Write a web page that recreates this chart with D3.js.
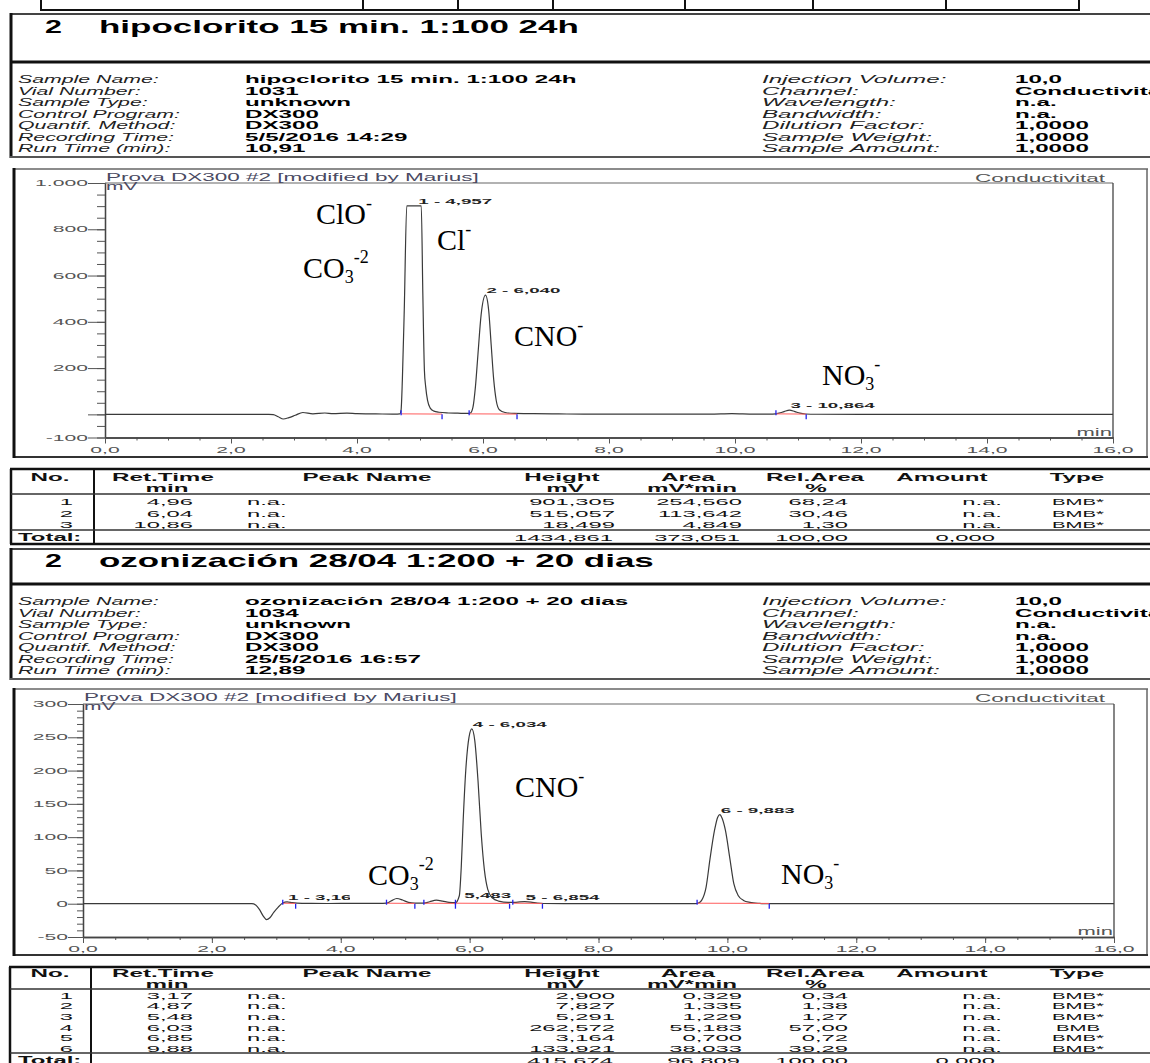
<!DOCTYPE html>
<html>
<head>
<meta charset="utf-8">
<script src="https://cdn.jsdelivr.net/npm/d3@7"></script>
<style>
  html, body { margin: 0; padding: 0; background: #fff; overflow: hidden; }
  svg { display: block; }
</style>
</head>
<body>
<svg id="page" width="1150" height="1063"></svg>
<script>
// ---------------- report data ----------------
const infoLabelsLeft  = ["Sample Name:", "Vial Number:", "Sample Type:", "Control Program:", "Quantif. Method:", "Recording Time:", "Run Time (min):"];
const infoLabelsRight = ["Injection Volume:", "Channel:", "Wavelength:", "Bandwidth:", "Dilution Factor:", "Sample Weight:", "Sample Amount:"];
const infoValuesRight = ["10,0", "Conductivitat", "n.a.", "n.a.", "1,0000", "1,0000", "1,0000"];

const run1Title = "hipoclorito 15 min. 1:100 24h";
const run1Info  = ["hipoclorito 15 min. 1:100 24h", "1031", "unknown", "DX300", "DX300", "5/5/2016 14:29", "10,91"];
const run2Title = "ozonización 28/04 1:200 + 20 dias";
const run2Info  = ["ozonización 28/04 1:200 + 20 dias", "1034", "unknown", "DX300", "DX300", "25/5/2016 16:57", "12,89"];

const chartTitle = "Prova DX300 #2 [modified by Marius]";
const channelName = "Conductivitat";

// time axis (min)
const timeLabels = [0, 2, 4, 6, 8, 10, 12, 14, 16];

// signal axes (mV)
const run1YMajor  = [1000, 800, 600, 400, 200, 0, -100];
const run1YLabels = [1000, 800, 600, 400, 200, -100];
const run2YMajor  = [300, 250, 200, 150, 100, 50, 0, -50];
const run2YLabels = [300, 250, 200, 150, 100, 50, 0, -50];

// integrated peaks, run 1
const run1PeakNo      = [1, 2, 3];
const run1PeakRt      = [4.957, 6.040, 10.864];
const run1PeakHeight  = [901.305, 515.057, 18.499];
const run1PeakArea    = [254.560, 113.642, 4.849];
const run1PeakRelArea = [68.24, 30.46, 1.30];
const run1PeakType    = ["BMB*", "BMB*", "BMB*"];
const run1PeakStart   = [4.70, 5.78, 10.65];
const run1PeakEnd     = [5.35, 6.54, 11.13];
const run1Totals      = [1434.861, 373.051, 100.00, 0.000];

// integrated peaks, run 2
const run2PeakNo      = [1, 2, 3, 4, 5, 6];
const run2PeakRt      = [3.167, 4.870, 5.483, 6.034, 6.854, 9.883];
const run2PeakHeight  = [2.900, 7.827, 5.291, 262.572, 3.164, 133.921];
const run2PeakArea    = [0.329, 1.335, 1.229, 55.183, 0.700, 38.033];
const run2PeakRelArea = [0.34, 1.38, 1.27, 57.00, 0.72, 39.29];
const run2PeakType    = ["BMB*", "BMB*", "BMB*", "BMB", "BMB*", "BMB*"];
const run2PeakStart   = [3.10, 4.71, 5.29, 5.78, 6.67, 9.53];
const run2PeakEnd     = [3.30, 5.15, 5.78, 6.62, 7.13, 10.65];
const run2LabelShown  = [true, false, true, true, true, true];  // peak 2 label sits under the CO3 note
const run2Totals      = [415.674, 96.809, 100.00, 0.000];

// detector trace, run 1: [time min, signal mV]
const run1Trace = [
  [0, 0], [2.60, 0], [2.67, -1], [2.75, -10], [2.83, -20], [2.92, -14], [3.02, -4], [3.14, 8],
  [3.30, 2], [3.49, 6], [3.62, 3], [3.84, 5], [4.0, 3], [4.3, 2], [4.6, 1], [4.68, 2],
  [4.70, 20], [4.72, 149], [4.75, 450], [4.79, 901.305], [4.957, 901.305], [5.02, 901.305],
  [5.045, 520], [5.07, 190], [5.09, 120], [5.12, 60], [5.16, 28], [5.22, 14], [5.30, 9],
  [5.45, 6], [5.60, 5], [5.76, 4], [5.80, 6], [5.84, 30], [5.88, 120], [5.92, 260],
  [5.97, 430], [6.040, 515.057], [6.09, 450], [6.13, 300], [6.17, 150], [6.21, 60],
  [6.26, 20], [6.35, 8], [6.50, 4], [6.80, 3], [7.2, 2], [7.6, 1], [9.6, 1], [9.95, 3],
  [10.3, 1], [10.6, 1], [10.70, 5], [10.78, 12], [10.864, 18.499], [10.95, 12], [11.03, 5],
  [11.12, 1.5], [11.30, 0.5], [12.0, 0], [16.0, 0]
];

// detector trace, run 2: [time min, signal mV]
const run2Trace = [
  [0, 0], [2.62, 0], [2.68, -2], [2.74, -9], [2.80, -19], [2.85, -24], [2.90, -21], [2.96, -13],
  [3.03, -5], [3.10, 1], [3.167, 2.9], [3.25, 1.5], [3.40, 0.5], [3.8, 0.3], [4.2, 0.5],
  [4.6, 0.5], [4.71, 0.8], [4.78, 4], [4.870, 7.827], [4.96, 5.5], [5.05, 2], [5.15, 0.8],
  [5.29, 0.8], [5.38, 3], [5.483, 5.291], [5.58, 4], [5.68, 2], [5.78, 1.5], [5.84, 12],
  [5.87, 55], [5.90, 125], [5.94, 200], [5.99, 250], [6.034, 262.572], [6.08, 245],
  [6.13, 185], [6.18, 105], [6.23, 50], [6.28, 22], [6.35, 9], [6.45, 4], [6.60, 2],
  [6.70, 2], [6.78, 2.8], [6.854, 3.164], [6.95, 2.5], [7.05, 1], [7.15, 0.3], [8.0, 0],
  [9.50, 0], [9.55, 1], [9.60, 5], [9.67, 25], [9.73, 67], [9.80, 110], [9.85, 130],
  [9.883, 133.921], [9.92, 128], [9.97, 110], [10.04, 67], [10.10, 30], [10.17, 12],
  [10.25, 5], [10.35, 2], [10.50, 0.5], [10.65, 0], [16.0, 0]
];

// ---------------- drawing helpers ----------------
const svg = d3.select("#page");
const SANS = "'Liberation Sans', Arial, Helvetica, sans-serif";
const SERIF = "'Liberation Serif', 'Times New Roman', serif";
const loc = d3.formatLocale({ decimal: ",", thousands: ".", grouping: [3], currency: ["", ""], minus: "-" });
const fmtY = loc.format(",");
const fmtX = loc.format(".1f");
const dec = (v, n) => v.toFixed(n).replace(".", ",");

// report text is rendered horizontally stretched, like the printed report
function txt(parent, x, y, str, o) {
  const t = parent.append("text")
    .attr("x", x).attr("y", y)
    .attr("font-family", o.family || SANS)
    .attr("font-size", o.size)
    .attr("font-weight", o.weight || "normal")
    .attr("font-style", o.style || "normal")
    .attr("fill", o.fill || "#000")
    .text(str);
  const w = t.node().getComputedTextLength();
  const W = w * (o.k || 1);
  if (o.k && o.k !== 1) t.attr("textLength", W).attr("lengthAdjust", "spacingAndGlyphs");
  const a = o.anchor || "start";
  t.attr("x", a === "end" ? x - W : a === "middle" ? x - W / 2 : x);
  return t;
}
function hline(x1, x2, y, w, c) {
  svg.append("line").attr("x1", x1).attr("x2", x2).attr("y1", y).attr("y2", y)
    .attr("stroke", c || "#111").attr("stroke-width", w || 1);
}
function vline(x, y1, y2, w, c) {
  svg.append("line").attr("x1", x).attr("x2", x).attr("y1", y1).attr("y2", y2)
    .attr("stroke", c || "#111").attr("stroke-width", w || 1);
}
// chemical species label with optional sub/superscripts
function chem(parent, x, y, parts) {
  const t = parent.append("text").attr("x", x).attr("y", y)
    .attr("font-family", SERIF).attr("font-size", 30).attr("fill", "#000");
  parts.forEach(p => {
    const s = t.append("tspan").text(p[0]);
    if (p[1] === "sub") s.attr("y", y + 5).attr("font-size", 18);
    else if (p[1] === "sup") s.attr("y", y - 15).attr("font-size", 18);
    else s.attr("y", y);
  });
}

// ---------------- fragment of previous table ----------------
hline(40, 1080, 10, 2);
[41, 363, 458, 553, 685, 813, 946, 1079].forEach(x => vline(x, 0, 11, 2));

// ---------------- header + info block ----------------
function drawHeader(top, bandBottom, titleBase, infoBottom, title, info) {
  hline(10, 1150, top, 2, "#444");
  hline(10, 1150, bandBottom, 3, "#111");
  vline(11, top - 1, infoBottom + 1, 3, "#111");
  hline(10, 1150, infoBottom, 2, "#555");
  txt(svg, 45, titleBase, "2", { size: 19, weight: "bold", k: 1.6 });
  txt(svg, 99, titleBase, title, { size: 19, weight: "bold", k: 1.84 });
  const r0 = bandBottom + 21;
  infoLabelsLeft.forEach((s, i) => {
    txt(svg, 18, r0 + i * 11.5, s, { size: 11.5, style: "italic", k: 1.85, fill: "#222" });
    txt(svg, 245, r0 + i * 11.5, info[i], { size: 11.5, weight: "bold", k: 2.1 });
  });
  infoLabelsRight.forEach((s, i) => {
    txt(svg, 762, r0 + i * 11.5, s, { size: 11.5, style: "italic", k: 2.1, fill: "#222" });
    txt(svg, 1015, r0 + i * 11.5, infoValuesRight[i], { size: 11.5, weight: "bold", k: 2.1 });
  });
}

// ---------------- chromatogram ----------------
function drawChart(c) {
  const g = svg.append("g");
  // outer frame
  hline(13, 1148, c.frameTop, 1.5, "#666");
  vline(1147, c.frameTop, c.frameBottom, 1.5, "#666");
  hline(13, 1148, c.frameBottom, 2, "#333");
  vline(14, c.frameTop - 1, c.frameBottom + 1, 3, "#111");

  const x = d3.scaleLinear().domain([0, 16]).range([c.x0, c.x1]);
  const y = d3.scaleLinear().domain(c.yDomain).range([c.yBottom, c.yTop]);

  // plot box top and right edges
  g.append("line").attr("x1", c.x0).attr("x2", c.x1).attr("y1", y(c.yDomain[1])).attr("y2", y(c.yDomain[1]))
    .attr("stroke", "#666").attr("stroke-width", 1.2);
  g.append("line").attr("x1", c.x1).attr("x2", c.x1).attr("y1", y(c.yDomain[1])).attr("y2", y(c.yDomain[0]))
    .attr("stroke", "#444").attr("stroke-width", 1.3);

  // y axis
  const yMinor = d3.range(c.yDomain[0], c.yDomain[1] + 0.001, c.yMinorStep);
  g.append("g").attr("transform", `translate(${c.x0},0)`)
    .call(d3.axisLeft(y).tickValues(yMinor).tickSize(c.minorLen).tickSizeOuter(0).tickFormat(""));
  g.append("g").attr("transform", `translate(${c.x0},0)`)
    .call(d3.axisLeft(y).tickValues(c.yMajor).tickSize(c.majorLen).tickSizeOuter(0).tickFormat(""));
  c.yLabels.forEach(v => txt(g, c.x0 - c.majorLen, y(v) + 3.2, fmtY(v), { size: 9, k: 2.35, fill: "#555", anchor: "end" }));

  // x axis
  const xMinor = d3.range(0, 16.001, 0.5);
  g.append("g").attr("transform", `translate(0,${c.yBottom})`)
    .call(d3.axisBottom(x).tickValues(xMinor).tickSize(3).tickSizeOuter(0).tickFormat(""));
  g.append("g").attr("transform", `translate(0,${c.yBottom})`)
    .call(d3.axisBottom(x).tickValues(timeLabels).tickSize(6).tickSizeOuter(0).tickFormat(""));
  timeLabels.forEach(v => txt(g, x(v), c.yBottom + 15, fmtX(v), { size: 9, k: 2.35, fill: "#555", anchor: "middle" }));
  txt(g, c.x1 - 1, c.yBottom - 2, "min", { size: 10, k: 2.2, fill: "#555", anchor: "end" });

  g.selectAll(".domain").attr("stroke", "#444").attr("stroke-width", 1.3);
  g.selectAll(".tick line").attr("stroke", "#555").attr("stroke-width", 1);

  // captions
  txt(g, c.x0 + 1, c.titleBase, chartTitle, { size: 10, k: 2.25, fill: "#4a4a62" });
  txt(g, c.x0 + 1, c.titleBase + 9, "mV", { size: 10, k: 2.1, fill: "#4a4a62" });
  txt(g, 1105, c.titleBase + 1, channelName, { size: 10, k: 2.25, fill: "#555", anchor: "end" });

  // peak labels
  c.peakNo.forEach((n, i) => {
    if (c.labelShown && !c.labelShown[i]) return;
    txt(g, x(c.peakRt[i]) + 1, y(c.peakHeight[i]) - 2, `${n} - ${dec(c.peakRt[i], 3)}`,
      { size: 8, weight: "bold", k: 2.34, fill: "#222" });
  });

  if (c.cover) {
    g.append("rect").attr("x", c.cover[0]).attr("y", c.cover[1])
      .attr("width", c.cover[2]).attr("height", c.cover[3]).attr("fill", "#fff");
  }

  // detector trace
  const line = d3.line().x(d => x(d[0])).y(d => y(d[1])).curve(d3.curveMonotoneX);
  g.append("path").datum(c.trace).attr("d", line)
    .attr("fill", "none").attr("stroke", "#3a3a3a").attr("stroke-width", 1.2)
    .attr("stroke-linejoin", "round");

  // integration baselines and delimiters
  c.peakStart.forEach((s, i) => {
    g.append("line").attr("x1", x(s)).attr("x2", x(c.peakEnd[i]))
      .attr("y1", y(0) - 0.5).attr("y2", y(0) - 0.3)
      .attr("stroke", "#ff5c5c").attr("stroke-width", 1);
  });
  c.peakStart.forEach(s => {
    g.append("line").attr("x1", x(s)).attr("x2", x(s)).attr("y1", y(0) - 4).attr("y2", y(0) + 1)
      .attr("stroke", "#2222ee").attr("stroke-width", 1.3);
  });
  c.peakEnd.forEach(s => {
    g.append("line").attr("x1", x(s)).attr("x2", x(s)).attr("y1", y(0)).attr("y2", y(0) + 5)
      .attr("stroke", "#2222ee").attr("stroke-width", 1.3);
  });

  c.chem.forEach(ch => chem(g, ch[0], ch[1], ch[2]));
}

// ---------------- peak table ----------------
const colNo = 73, colRt = 193, colName = 247, colH = 615, colA = 742, colRel = 848, colAmt = 1002, colType = 1078;

function drawTable(t) {
  const tg = svg.append("g");
  hline(t.left - 1, 1150, t.top, 2.5, "#111");
  vline(t.left, t.top, t.bottom, 2.5, "#111");
  vline(t.div, t.top, t.bottom, 2, "#111");
  hline(t.left, 1150, t.headLine, 1.3, "#333");
  hline(t.left, 1150, t.totalLine, 1.5, "#333");
  hline(t.left - 1, 1150, t.bottom, 2.5, "#111");

  const H = { size: 10, weight: "bold", k: 2.42, fill: "#111", anchor: "middle" };
  txt(tg, 50, t.h1, "No.", H);
  txt(tg, 163, t.h1, "Ret.Time", H);  txt(tg, 167, t.h2, "min", H);
  txt(tg, 367, t.h1, "Peak Name", H);
  txt(tg, 562, t.h1, "Height", H);    txt(tg, 565, t.h2, "mV", H);
  txt(tg, 688, t.h1, "Area", H);      txt(tg, 692, t.h2, "mV*min", H);
  txt(tg, 815, t.h1, "Rel.Area", H);  txt(tg, 816, t.h2, "%", H);
  txt(tg, 942, t.h1, "Amount", H);
  txt(tg, 1077, t.h1, "Type", H);

  const R = { size: 9.5, k: 2.5, fill: "#111" };
  t.no.forEach((n, i) => {
    const yb = t.r0 + i * t.step;
    txt(tg, colNo, yb, String(n), { ...R, anchor: "end" });
    txt(tg, colRt, yb, dec(t.rt[i], 2), { ...R, anchor: "end" });
    txt(tg, colName, yb, "n.a.", R);
    txt(tg, colH, yb, dec(t.height[i], 3), { ...R, anchor: "end" });
    txt(tg, colA, yb, dec(t.area[i], 3), { ...R, anchor: "end" });
    txt(tg, colRel, yb, dec(t.rel[i], 2), { ...R, anchor: "end" });
    txt(tg, colAmt, yb, "n.a.", { ...R, anchor: "end" });
    txt(tg, colType, yb, t.type[i], { ...R, k: 2.14, anchor: "middle" });
  });
  txt(tg, 18, t.totalBase, "Total:", { size: 10, weight: "bold", k: 2.39, fill: "#111" });
  txt(tg, colH - 2, t.totalBase, dec(t.totals[0], 3), { ...R, anchor: "end" });
  txt(tg, colA - 2, t.totalBase, dec(t.totals[1], 3), { ...R, anchor: "end" });
  txt(tg, colRel, t.totalBase, dec(t.totals[2], 2), { ...R, anchor: "end" });
  txt(tg, 995, t.totalBase, dec(t.totals[3], 3), { ...R, anchor: "end" });
}

// ---------------- run 1 ----------------
drawHeader(14, 62, 33, 157, run1Title, run1Info);
drawChart({
  frameTop: 169, frameBottom: 457,
  x0: 105, x1: 1113, yTop: 183, yBottom: 437.5,
  yDomain: [-100, 1000], yMinorStep: 50, yMajor: run1YMajor, yLabels: run1YLabels,
  majorLen: 17, minorLen: 8, titleBase: 181,
  trace: run1Trace,
  peakNo: run1PeakNo, peakRt: run1PeakRt, peakHeight: run1PeakHeight,
  peakStart: run1PeakStart, peakEnd: run1PeakEnd,
  chem: [
    [316, 224, [["ClO"], ["-", "sup"]]],
    [303, 278, [["CO"], ["3", "sub"], ["-2", "sup"]]],
    [437, 250, [["Cl"], ["-", "sup"]]],
    [514, 346, [["CNO"], ["-", "sup"]]],
    [822, 385, [["NO"], ["3", "sub"], ["-", "sup"]]]
  ]
});
drawTable({
  top: 469, left: 11, div: 94, headLine: 494, totalLine: 530, bottom: 544,
  h1: 481, h2: 491.5, r0: 505, step: 11.7, totalBase: 540.5,
  no: run1PeakNo, rt: run1PeakRt, height: run1PeakHeight, area: run1PeakArea,
  rel: run1PeakRelArea, type: run1PeakType, totals: run1Totals
});

// ---------------- run 2 ----------------
drawHeader(549, 584, 567, 679, run2Title, run2Info);
drawChart({
  frameTop: 689, frameBottom: 955,
  x0: 83, x1: 1114, yTop: 704, yBottom: 937,
  yDomain: [-50, 300], yMinorStep: 10, yMajor: run2YMajor, yLabels: run2YLabels,
  majorLen: 15, minorLen: 6, titleBase: 701,
  trace: run2Trace,
  peakNo: run2PeakNo, peakRt: run2PeakRt, peakHeight: run2PeakHeight,
  peakStart: run2PeakStart, peakEnd: run2PeakEnd, labelShown: run2LabelShown,
  cover: [350, 856, 111, 45],
  chem: [
    [368, 885, [["CO"], ["3", "sub"], ["-2", "sup"]]],
    [515, 797, [["CNO"], ["-", "sup"]]],
    [781, 884, [["NO"], ["3", "sub"], ["-", "sup"]]]
  ]
});
drawTable({
  top: 967, left: 10, div: 91, headLine: 989, totalLine: 1053, bottom: 1075,
  h1: 977, h2: 988, r0: 998.5, step: 10.7, totalBase: 1064,
  no: run2PeakNo, rt: run2PeakRt, height: run2PeakHeight, area: run2PeakArea,
  rel: run2PeakRelArea, type: run2PeakType, totals: run2Totals
});
</script>
</body>
</html>
